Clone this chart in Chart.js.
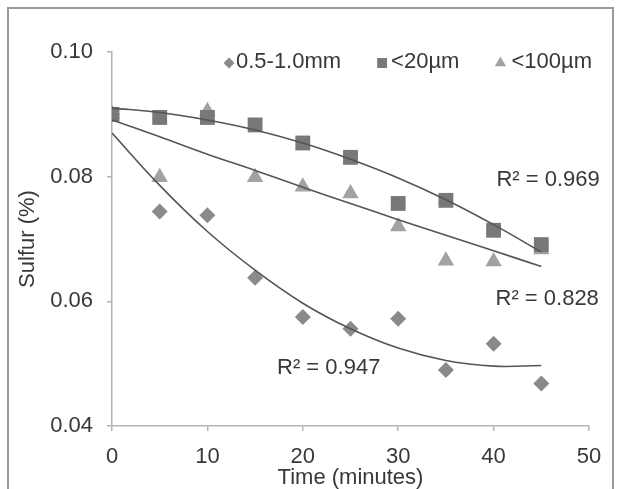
<!DOCTYPE html>
<html>
<head>
<meta charset="utf-8">
<script src="https://cdn.jsdelivr.net/npm/chart.js@4.4.1/dist/chart.umd.min.js"></script>
<style>
  html, body { margin: 0; padding: 0; background: #fff; }
  #wrap { width: 622px; height: 489px; }
</style>
</head>
<body>
<div id="wrap"><canvas id="myChart" width="622" height="489"></canvas></div>
<script>
// sampling times (minutes)
const times = [0, 5, 10, 15, 20, 25, 30, 35, 40, 45];
const seriesNames = ['0.5-1.0mm', '<20µm', '<100µm'];

// sulfur content (%)
const coarse = [0.0900, 0.0744, 0.0738, 0.0638, 0.0575, 0.0556, 0.0572, 0.0490, 0.0532, 0.0468];
const fine20 = [0.0900, 0.0895, 0.0895, 0.0883, 0.0854, 0.0831, 0.0757, 0.0762, 0.0714, 0.0691];
const fine100 = [0.0900, 0.0799, 0.0905, 0.0799, 0.0784, 0.0773, 0.0720, 0.0665, 0.0664, 0.0683];

// trend lines
const coarseTrend = [0.0870, 0.0786, 0.0712, 0.0650, 0.0597, 0.0556, 0.0525, 0.0505, 0.0496, 0.0497];
const fine20Trend = [0.0910, 0.0903, 0.0891, 0.0875, 0.0854, 0.0828, 0.0798, 0.0763, 0.0723, 0.0679];
const fine100Trend = [0.0891, 0.0864, 0.0836, 0.0810, 0.0783, 0.0757, 0.0731, 0.0706, 0.0681, 0.0656];

const r2Text = ['R² = 0.947', 'R² = 0.969', 'R² = 0.828'];

const xTicks = [0, 10, 20, 30, 40, 50];
const yTicks = [0.04, 0.06, 0.08, 0.10];

const FONT = '"Liberation Sans", Arial, sans-serif';
const TEXT = '#383838';

function pts(ys) {
    return times.map((t, i) => ({ x: t, y: ys[i] }));
}

const markerColors = ['#8a8a8a', '#787878', '#a2a2a2'];
const markerStyles = ['rectRot', 'rect', 'triangle'];

// frame around the figure
const framePlugin = {
    id: 'frame',
    beforeDraw(chart) {
        const c = chart.ctx;
        c.save();
        c.fillStyle = '#fff';
        c.fillRect(0, 0, chart.width, chart.height);
        c.strokeStyle = '#9a9a9a';
        c.lineWidth = 2;
        c.strokeRect(8, 8, 605, 520);
        c.restore();
    }
};

// legend in the top right of the plot + R² labels
const extrasPlugin = {
    id: 'extras',
    afterDraw(chart) {
        const c = chart.ctx;
        const xs = chart.scales.x, ys = chart.scales.y;
        c.save();
        c.font = '22px ' + FONT;
        c.fillStyle = TEXT;
        c.textBaseline = 'middle';

        // legend, laid out from the right
        let right = chart.chartArea.right + 3;
        const ly = chart.chartArea.top + 10;
        const legR = [5.5, 7, 6.5];
        const legOff = [7, 9, 11];
        for (let i = seriesNames.length - 1; i >= 0; i--) {
            const w = c.measureText(seriesNames[i]).width;
            const tx = right - w;
            c.textAlign = 'left';
            c.fillStyle = TEXT;
            c.fillText(seriesNames[i], tx, ly);
            const mx = tx - legOff[i];
            c.fillStyle = markerColors[i];
            c.strokeStyle = markerColors[i];
            Chart.helpers.drawPoint(c, { pointStyle: markerStyles[i], radius: legR[i], rotation: 0, borderWidth: 0 }, mx, ly + 1);
            right = mx - 41;
        }

        // R² labels, placed in data units
        const r2x = [17.3, 40.3, 40.2];
        const r2y = [0.0493, 0.0794, 0.0604];
        c.fillStyle = TEXT;
        c.textAlign = 'left';
        r2Text.forEach((t, i) => {
            c.fillText(t, xs.getPixelForValue(r2x[i]), ys.getPixelForValue(r2y[i]));
        });
        c.restore();
    }
};

const markerSet = (i, data, order) => ({
    label: seriesNames[i],
    data: pts(data),
    pointStyle: markerStyles[i],
    pointRadius: [8, 10.5, 9.5][i],
    pointBackgroundColor: markerColors[i],
    pointBorderColor: markerColors[i],
    pointBorderWidth: 0,
    showLine: false,
    order: order
});

const trendSet = (data) => ({
    label: 'trend',
    data: pts(data),
    showLine: true,
    pointRadius: 0,
    borderColor: '#555555',
    borderWidth: 1.6,
    tension: 0.4,
    fill: false,
    order: 0
});

const ctx = document.getElementById('myChart').getContext('2d');
const myChart = new Chart(ctx, {
    type: 'scatter',
    data: {
        datasets: [
            trendSet(coarseTrend),
            trendSet(fine20Trend),
            trendSet(fine100Trend),
            markerSet(1, fine20, 1),
            markerSet(0, coarse, 2),
            markerSet(2, fine100, 3)
        ]
    },
    options: {
        responsive: false,
        animation: false,
        layout: { padding: { top: 52, right: 33, bottom: 0, left: 0 } },
        plugins: {
            legend: { display: false },
            tooltip: { enabled: false }
        },
        scales: {
            x: {
                type: 'linear',
                min: 0,
                max: 50,
                afterFit(scale) { scale.height = 63; },
                afterBuildTicks(scale) { scale.ticks = xTicks.map(v => ({ value: v })); },
                border: { color: '#b4b4b4', width: 1.5 },
                grid: { drawOnChartArea: false, drawTicks: true, tickLength: 5, color: '#b4b4b4', lineWidth: 1.5 },
                ticks: { color: TEXT, font: { family: FONT, size: 22 }, padding: 13, maxRotation: 0 },
                title: {
                    display: true,
                    text: 'Time (minutes)',
                    color: TEXT,
                    font: { family: FONT, size: 22, lineHeight: 1 },
                    padding: { top: 0, bottom: 0 }
                }
            },
            y: {
                type: 'linear',
                min: 0.04,
                max: 0.10,
                afterFit(scale) { scale.width = 112; },
                afterBuildTicks(scale) { scale.ticks = yTicks.map(v => ({ value: v })); },
                border: { color: '#b4b4b4', width: 1.5 },
                grid: { drawOnChartArea: false, drawTicks: true, tickLength: 5, color: '#b4b4b4', lineWidth: 1.5 },
                ticks: {
                    color: TEXT,
                    font: { family: FONT, size: 22 },
                    padding: 14,
                    callback: v => v.toFixed(2)
                },
                title: {
                    display: true,
                    text: 'Sulfur (%)',
                    color: TEXT,
                    font: { family: FONT, size: 22, lineHeight: 1 },
                    padding: { top: 17, bottom: 0 }
                }
            }
        }
    },
    plugins: [framePlugin, extrasPlugin]
});
</script>
</body>
</html>
